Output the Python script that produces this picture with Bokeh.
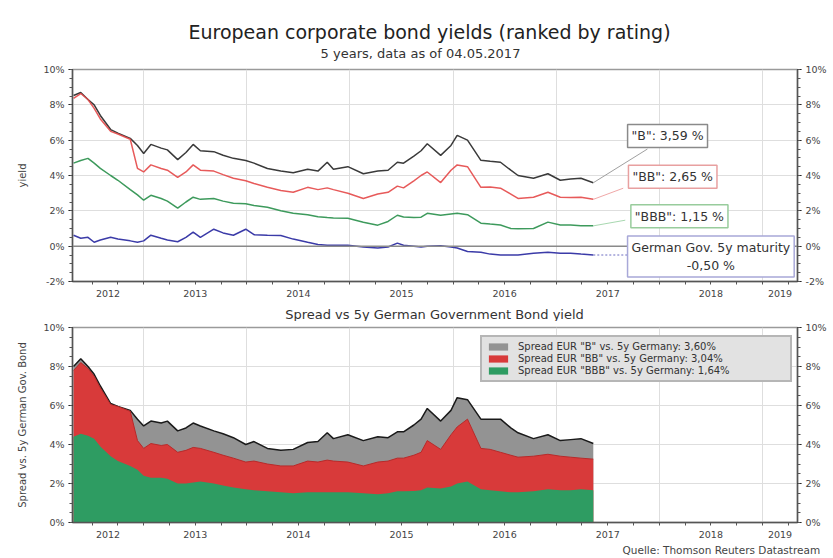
from bokeh.plotting import figure
from bokeh.models import (Range1d, LinearAxis, FixedTicker, PrintfTickFormatter,
                          CustomJSTickFormatter, Label, Span, Title)
from bokeh.layouts import column
from bokeh.embed import file_html
from bokeh.resources import INLINE
from bokeh.core.properties import value

FONT = "DejaVu Sans"

# ---------------- data (decimal years) ----------------
dates = [2012.32, 2012.39, 2012.46, 2012.52, 2012.58, 2012.68, 2012.75, 2012.87, 2012.94, 2013.00,
         2013.07, 2013.17, 2013.23, 2013.33, 2013.41, 2013.48, 2013.55, 2013.68, 2013.77, 2013.87,
         2013.99, 2014.07, 2014.20, 2014.33, 2014.45, 2014.59, 2014.69, 2014.78, 2014.84, 2014.98,
         2015.13, 2015.27, 2015.37, 2015.46, 2015.52, 2015.62, 2015.69, 2015.75, 2015.88, 2015.98,
         2016.04, 2016.14, 2016.27, 2016.36, 2016.46, 2016.56, 2016.63, 2016.78, 2016.92,
         2017.04, 2017.14, 2017.24, 2017.36]

yield_b = [8.53, 8.7, 8.3, 8.0, 7.4, 6.6, 6.4, 6.1, 5.7, 5.25,
           5.76, 5.55, 5.45, 4.9, 5.3, 5.76, 5.4, 5.35, 5.15, 4.97,
           4.85, 4.7, 4.4, 4.25, 4.15, 4.35, 4.25, 4.75, 4.35, 4.5,
           4.1, 4.25, 4.3, 4.75, 4.7, 5.1, 5.4, 5.8, 5.14, 5.7,
           6.27, 6.0, 4.86, 4.8, 4.75, 4.3, 4.0, 3.84, 4.1,
           3.73, 3.8, 3.84, 3.59]

yield_bb = [8.36, 8.64, 8.3, 7.8, 7.2, 6.5, 6.35, 6.05, 4.4, 4.2,
            4.6, 4.4, 4.3, 3.9, 4.2, 4.6, 4.3, 4.25, 4.05, 3.84,
            3.7, 3.55, 3.33, 3.15, 3.05, 3.33, 3.2, 3.3, 3.2, 3.0,
            2.7, 2.95, 3.05, 3.4, 3.3, 3.7, 4.0, 4.2, 3.6, 4.3,
            4.6, 4.5, 3.33, 3.35, 3.28, 2.95, 2.7, 2.77, 3.05,
            2.77, 2.75, 2.77, 2.65]

yield_bbb = [4.7, 4.85, 4.97, 4.7, 4.4, 4.0, 3.73, 3.2, 2.9, 2.6,
             2.88, 2.7, 2.55, 2.15, 2.5, 2.77, 2.65, 2.7, 2.55, 2.43,
             2.4, 2.3, 2.2, 2.0, 1.86, 1.78, 1.66, 1.62, 1.6, 1.58,
             1.35, 1.19, 1.4, 1.75, 1.65, 1.62, 1.64, 1.86, 1.75, 1.82,
             1.86, 1.78, 1.3, 1.25, 1.2, 1.0, 0.98, 1.0, 1.36,
             1.2, 1.2, 1.15, 1.15]

yield_de = [0.62, 0.45, 0.5, 0.22, 0.35, 0.5, 0.4, 0.3, 0.22, 0.3,
            0.62, 0.45, 0.35, 0.25, 0.5, 0.8, 0.5, 0.96, 0.75, 0.62,
            0.96, 0.65, 0.62, 0.6, 0.4, 0.22, 0.1, 0.05, 0.05, 0.05,
            -0.05, -0.1, -0.05, 0.17, 0.05, 0.0, -0.05, 0.0, 0.02, -0.05,
            -0.1, -0.3, -0.35, -0.45, -0.5, -0.5, -0.5, -0.4, -0.35,
            -0.4, -0.4, -0.45, -0.5]

spread_b = [8.0, 8.4, 8.0, 7.6, 7.0, 6.1, 5.95, 5.75, 5.3, 4.95,
            5.2, 5.1, 5.2, 4.7, 4.85, 5.1, 4.95, 4.7, 4.55, 4.35,
            4.0, 4.15, 3.8, 3.7, 3.75, 4.1, 4.15, 4.6, 4.3, 4.5,
            4.2, 4.4, 4.35, 4.65, 4.65, 5.0, 5.3, 5.85, 5.2, 5.75,
            6.4, 6.3, 5.3, 5.3, 5.3, 4.85, 4.6, 4.3, 4.5,
            4.2, 4.25, 4.3, 4.05]

spread_bb = [7.8, 8.2, 7.9, 7.5, 6.9, 6.05, 5.95, 5.7, 4.2, 3.8,
             4.05, 3.95, 4.0, 3.6, 3.7, 3.85, 3.8, 3.6, 3.45, 3.3,
             3.1, 3.15, 3.0, 2.9, 2.9, 3.15, 3.1, 3.2, 3.15, 3.1,
             2.9, 3.1, 3.15, 3.3, 3.3, 3.45, 3.6, 4.2, 3.75, 4.5,
             4.9, 5.3, 3.8, 3.75, 3.6, 3.45, 3.35, 3.4, 3.5,
             3.4, 3.35, 3.3, 3.25]

spread_bbb = [4.4, 4.55, 4.45, 4.3, 3.9, 3.4, 3.15, 2.9, 2.7, 2.4,
              2.3, 2.3, 2.25, 2.0, 2.0, 2.05, 2.1, 2.0, 1.9, 1.8,
              1.7, 1.65, 1.6, 1.55, 1.5, 1.55, 1.55, 1.55, 1.55, 1.55,
              1.5, 1.45, 1.5, 1.6, 1.6, 1.62, 1.65, 1.8, 1.75, 1.85,
              2.0, 2.1, 1.7, 1.65, 1.6, 1.55, 1.55, 1.6, 1.7,
              1.65, 1.65, 1.7, 1.65]

year_bounds = [2013, 2014, 2015, 2016, 2017, 2018, 2019]
year_label_pos = [2012.655, 2013.5, 2014.5, 2015.5, 2016.5, 2017.5, 2018.5, 2019.17]
quarter_ticks = [2012.5, 2012.75] + [y + q for y in range(2013, 2019) for q in (0, 0.25, 0.5, 0.75)] + [2019.0, 2019.25]

title_text = "European corporate bond yields (ranked by rating)"
subtitle_text = "5 years, data as of 04.05.2017"
bottom_title_text = "Spread vs 5y German Government Bond yield"
source_text = "Quelle: Thomson Reuters Datastream"
legend_labels = ['Spread EUR "B" vs. 5y Germany: 3,60%',
                 'Spread EUR "BB" vs. 5y Germany: 3,04%',
                 'Spread EUR "BBB" vs. 5y Germany: 1,64%']
box_labels = ['"B": 3,59 %', '"BB": 2,65 %', '"BBB": 1,15 %', 'German Gov. 5y maturity\n-0,50 %']

C_B, C_BB, C_BBB, C_DE = "#3a3a3a", "#e44848", "#3d9a5c", "#3b3ba8"
A_B, A_BB, A_BBB = "#939393", "#d83a3a", "#2e9c62"

W = 833
FRAME_L, FRAME_R = 72, 797
xr = Range1d(2012.31, 2019.34)


def text_strip(height, items):
    """A blank strip holding free texts; its frame is aligned with the charts' frames,
    so x is given in page pixels between FRAME_L and FRAME_R, y downwards."""
    p = figure(width=W, height=height, x_range=Range1d(FRAME_L, FRAME_R),
               y_range=Range1d(height, 0),
               output_backend="svg", toolbar_location=None,
               x_axis_location=None, y_axis_location=None,
               min_border=0, min_border_left=FRAME_L, min_border_right=W - FRAME_R,
               min_border_top=0, min_border_bottom=0)
    p.title.text = ""
    p.grid.visible = False
    p.outline_line_color = None
    p.background_fill_color = "white"
    p.border_fill_color = "white"
    for x, y, txt, size, align, color in items:
        p.text(x=[x], y=[y], text=[txt], text_align=align, text_baseline="middle",
               text_font=value(FONT), text_font_size=value(size), text_color=color)
    return p


def make_fig(height, top, bottom, y0, y1, yticks):
    p = figure(width=W, height=height, x_range=xr, y_range=Range1d(y0, y1),
               output_backend="svg", toolbar_location=None,
               min_border_left=FRAME_L, min_border_right=W - FRAME_R,
               min_border_top=top, min_border_bottom=bottom)
    p.title.text = ""
    p.background_fill_color = "white"
    p.border_fill_color = "white"
    p.outline_line_color = "#9a9a9a"
    p.outline_line_width = 1.5
    minor_y = [y0 + 0.5 * i for i in range(int((y1 - y0) / 0.5) + 1)]
    yt = FixedTicker(ticks=yticks, minor_ticks=minor_y)
    yfmt = PrintfTickFormatter(format="%d%%")
    xt = FixedTicker(ticks=year_label_pos, minor_ticks=quarter_ticks)
    xfmt = CustomJSTickFormatter(code="return Math.floor(tick).toString();")
    p.xaxis.ticker = xt
    p.xaxis.formatter = xfmt
    p.yaxis.ticker = yt
    p.yaxis.formatter = yfmt
    right = LinearAxis(ticker=yt, formatter=yfmt)
    p.add_layout(right, "right")
    for ax in p.axis:
        ax.axis_line_color = "#555555"
        ax.axis_line_width = 1.5
        ax.minor_tick_line_color = "#555555"
        ax.minor_tick_out = 3
        ax.minor_tick_in = 0
        ax.major_tick_out = 4
        ax.major_tick_in = 0
        ax.major_label_text_font = FONT
        ax.major_label_text_font_size = "9.5px"
        ax.major_label_text_color = "#444444"
        ax.major_label_standoff = 4
        ax.axis_label_text_font = FONT
        ax.axis_label_text_font_size = "10px"
        ax.axis_label_text_font_style = "normal"
        ax.axis_label_text_color = "#444444"
    p.xaxis.major_tick_line_color = None
    p.xgrid.ticker = FixedTicker(ticks=year_bounds)
    p.xgrid.grid_line_color = "#dedede"
    p.ygrid.ticker = FixedTicker(ticks=yticks)
    p.ygrid.grid_line_color = "#dedede"
    return p


# ---------------- header ----------------
header = text_strip(61, [(429, 31, title_text, "19px", "center", "#222222"),
                         (420, 53, subtitle_text, "13px", "center", "#333333")])

# ---------------- top chart ----------------
p1 = make_fig(242, 8, 22, -2, 10, [-2, 0, 2, 4, 6, 8, 10])
p1.yaxis[0].axis_label = "yield"
p1.yaxis[0].axis_label_standoff = 12

p1.add_layout(Span(location=0, dimension="width", line_color="#8a8a8a", line_width=1.5))

p1.line(dates, yield_bbb, line_color=C_BBB, line_width=1.5)
p1.line(dates, yield_de, line_color=C_DE, line_width=1.5)
p1.line(dates, yield_b, line_color=C_B, line_width=1.5)
p1.line(dates, yield_bb, line_color=C_BB, line_width=1.5, line_alpha=0.9)

x_end = dates[-1]
# leader lines from the last values to the value boxes
p1.line([x_end, 2017.885], [yield_b[-1], 5.5], line_color="#a0a0a0", line_width=1)
p1.line([x_end, 2017.65], [yield_bb[-1], 3.28], line_color="#f0a8a8", line_width=1)
p1.line([x_end, 2017.67], [yield_bbb[-1], 1.47], line_color="#a8d8b0", line_width=1)
p1.line([x_end, 2017.69], [yield_de[-1], yield_de[-1]], line_color="#6a6ac0", line_width=1, line_dash="2 2")

boxes = [(2018.08, 6.24, box_labels[0], "#8a8a8a"),
         (2018.13, 3.93, box_labels[1], "#e8a0a0"),
         (2018.195, 1.69, box_labels[2], "#98cc9c"),
         (2018.50, -0.59, box_labels[3], "#a8a8d8")]
for bx, by, txt, bc in boxes:
    p1.add_layout(Label(x=bx, y=by, text=txt, text_align="center", text_baseline="middle",
                        text_font=FONT, text_font_size="12.5px", text_color="#333333",
                        background_fill_color="white", border_line_color=bc,
                        border_line_width=1.5, padding=4))

# ---------------- middle title ----------------
mid = text_strip(18, [(434, 11, bottom_title_text, "13px", "center", "#333333")])

# ---------------- bottom chart ----------------
p2 = make_fig(237, 6, 36, 0, 10, [0, 2, 4, 6, 8, 10])
p2.yaxis[0].axis_label = "Spread vs. 5y German Gov. Bond"
p2.yaxis[0].axis_label_standoff = 12

p2.varea(x=dates, y1=0, y2=spread_b, fill_color=A_B, legend_label=legend_labels[0])
p2.line(dates, spread_b, line_color="#1a1a1a", line_width=1.5)
p2.varea(x=dates, y1=0, y2=spread_bb, fill_color=A_BB, legend_label=legend_labels[1])
p2.line(dates, spread_bb, line_color="#b82a2a", line_width=1)
p2.varea(x=dates, y1=0, y2=spread_bbb, fill_color=A_BBB, legend_label=legend_labels[2])

lg = p2.legend[0]
lg.location = (408, 140)
lg.background_fill_color = "#e2e2e2"
lg.background_fill_alpha = 1
lg.border_line_color = "#8a8a8a"
lg.border_line_width = 2
lg.label_text_font = FONT
lg.label_text_font_size = "10px"
lg.label_text_color = "#333333"
lg.glyph_height = 9
lg.glyph_width = 24
lg.label_height = 11
lg.label_width = 268
lg.spacing = 1
lg.padding = 4
lg.margin = 0
lg.label_standoff = 8

# source line below the bottom chart's x axis
p2.add_layout(Title(text=source_text, align="left", offset=622 - FRAME_L, standoff=2,
                    text_font=FONT, text_font_size="10.5px", text_font_style="normal",
                    text_color="#444444"), "below")

layout = column(header, p1, mid, p2)
open("out.html", "w").write(file_html(layout, INLINE))
